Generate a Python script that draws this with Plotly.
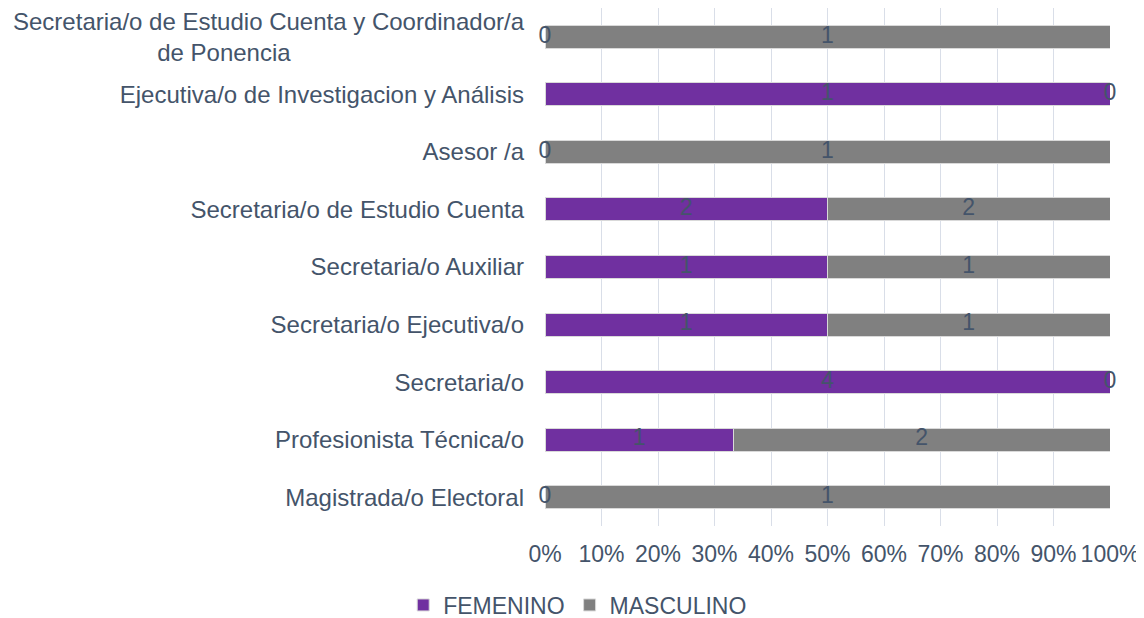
import plotly.graph_objects as go

categories = [
    "Magistrada/o Electoral",
    "Profesionista Técnica/o",
    "Secretaria/o",
    "Secretaria/o Ejecutiva/o",
    "Secretaria/o Auxiliar",
    "Secretaria/o de Estudio Cuenta",
    "Asesor /a",
    "Ejecutiva/o de Investigacion y Análisis",
    "Secretaria/o de Estudio Cuenta y Coordinador/a<br>de Ponencia" + "\u00a0" * 35,
]
femenino = [0, 1, 4, 1, 1, 2, 0, 1, 0]
masculino = [1, 2, 0, 1, 1, 2, 1, 0, 1]
xticks = [i / 10 for i in range(11)]
xticklabels = [f"{i*10}%" for i in range(11)]

PURPLE = "#7030A0"
GRAY = "#808080"
TXT = "#44546A"
FONT = "Liberation Sans, Arial, sans-serif"

tot = [f + m for f, m in zip(femenino, masculino)]
fpct = [f / t for f, t in zip(femenino, tot)]
mpct = [m / t for m, t in zip(masculino, tot)]
ypos = list(range(len(categories)))

fig = go.Figure()
fig.add_trace(go.Bar(y=ypos, x=fpct, orientation="h", name="FEMENINO",
                     marker=dict(color=PURPLE, line=dict(color="#D9D9D9", width=1))))
fig.add_trace(go.Bar(y=ypos, x=mpct, orientation="h", name="MASCULINO",
                     marker=dict(color=GRAY, line=dict(color="#D9D9D9", width=1))))
# data labels at segment centers
fig.add_trace(go.Scatter(y=ypos, x=[p / 2 for p in fpct], mode="text",
                         text=[str(v) for v in femenino], showlegend=False, cliponaxis=False,
                         textfont=dict(color=TXT, size=23, family=FONT), hoverinfo="skip"))
fig.add_trace(go.Scatter(y=ypos, x=[f + m / 2 for f, m in zip(fpct, mpct)], mode="text",
                         text=[str(v) for v in masculino], showlegend=False, cliponaxis=False,
                         textfont=dict(color=TXT, size=23, family=FONT), hoverinfo="skip"))

fig.update_layout(
    barmode="stack",
    bargap=0.6,
    width=1144, height=618,
    margin=dict(l=537, r=42, t=0, b=100, autoexpand=False),
    plot_bgcolor="white", paper_bgcolor="white",
    font=dict(family=FONT, size=23, color=TXT),
    legend=dict(orientation="h", xref="container", x=0.498, xanchor="center",
                yref="container", y=0.034, yanchor="middle",
                font=dict(size=23, color=TXT), traceorder="normal"),
    xaxis=dict(range=[0, 1], tickvals=xticks, ticktext=xticklabels, showgrid=True,
               gridcolor="#D9DEE8", gridwidth=1, zeroline=False, showline=False,
               ticks="", ticklabelstandoff=12, automargin=False, ticklabeloverflow="allow",
               tickfont=dict(size=23, color=TXT)),
    yaxis=dict(tickvals=ypos, ticktext=categories, range=[-0.5, len(categories) - 0.5],
               showgrid=False, zeroline=False, ticks="", ticklabelstandoff=20,
               automargin=False, ticklabeloverflow="allow",
               tickfont=dict(size=24, color=TXT)),
)
fig.write_html("out.html")
